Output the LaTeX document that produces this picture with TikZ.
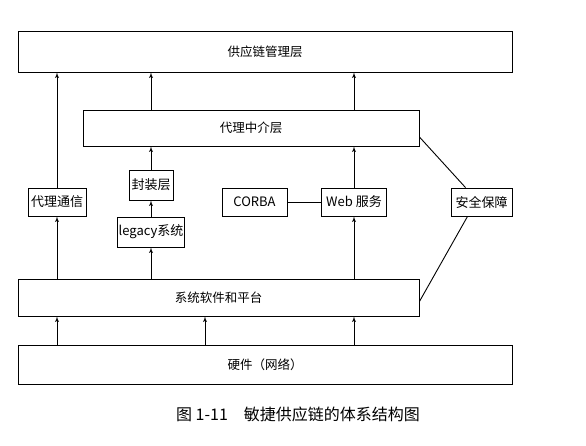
\documentclass[tikz,border=0pt]{standalone}
\usepackage{fontspec}
\setmainfont{Noto Sans CJK SC}
\usetikzlibrary{arrows,positioning}

\begin{document}
\begin{tikzpicture}[
  x=1pt,y=-1pt,
  layer/.style={draw,line width=0.9pt,inner sep=0pt,font=\fontsize{12.5}{14}\selectfont},
  unit/.style={draw,line width=0.9pt,inner sep=2pt,minimum height=28pt,font=\fontsize{13}{15}\selectfont},
  arr/.style={line width=0.9pt,-{latex'}},
  link/.style={line width=0.9pt}
]
  \useasboundingbox (0,0) rectangle (586,446);

  \node[layer,minimum width=494pt,minimum height=41pt] (top) at (265,51.5) {供应链管理层};
  \node[layer,minimum width=336pt,minimum height=36pt] (mid) at (251,128) {代理中介层};
  \node[layer,minimum width=401pt,minimum height=37pt] (sys) at (218.5,297.5) {系统软件和平台};
  \node[layer,minimum width=494pt,minimum height=39pt] (hw) at (265,364.5) {硬件（网络）};

  \node[unit,minimum width=58pt] (comm) at (57,202) {代理通信};
  \node[unit,minimum width=44pt,minimum height=30pt] (wrap) at (151,185) {封装层};
  \node[unit,inner sep=1pt,minimum width=64pt,minimum height=30pt] (legacy) at (151,232) {legacy系统};
  \node[unit,minimum width=65pt] (corba) at (254.5,202) {CORBA};
  \node[unit,minimum width=65pt] (web) at (354,202) {Web 服务};
  \node[unit,minimum width=61pt] (safe) at (481.5,202) {安全保障};

  \node[font=\fontsize{16}{18}\selectfont] (cap) at (298,414) {图 1-11\quad 敏捷供应链的体系结构图};

  % left column
  \draw[arr] (comm.north) -- (comm.north |- top.south);
  \draw[arr] (sys.north -| comm) -- (comm.south);
  % legacy column
  \draw[arr] (mid.north -| legacy) -- (top.south -| legacy);
  \draw[arr] (wrap.north) -- (mid.south -| wrap);
  \draw[arr] (legacy.north) -- (wrap.south);
  \draw[arr] (sys.north -| legacy) -- (legacy.south);
  % web column
  \draw[arr] (mid.north -| web) -- (top.south -| web);
  \draw[arr] (web.north) -- (mid.south -| web);
  \draw[arr] (sys.north -| web) -- (web.south);
  \draw[link] (corba) -- (web);
  % hardware to platform
  \foreach \x in {57,205,354}
    \draw[arr] (hw.north -| \x,0) -- (sys.south -| \x,0);
  % security
  \draw[link] ([yshift=-9pt]mid.east) -- ([xshift=-16pt]safe.north);
  \draw[link] ([xshift=-14pt]safe.south) -- ([yshift=-4pt]sys.east);
\end{tikzpicture}
\end{document}
